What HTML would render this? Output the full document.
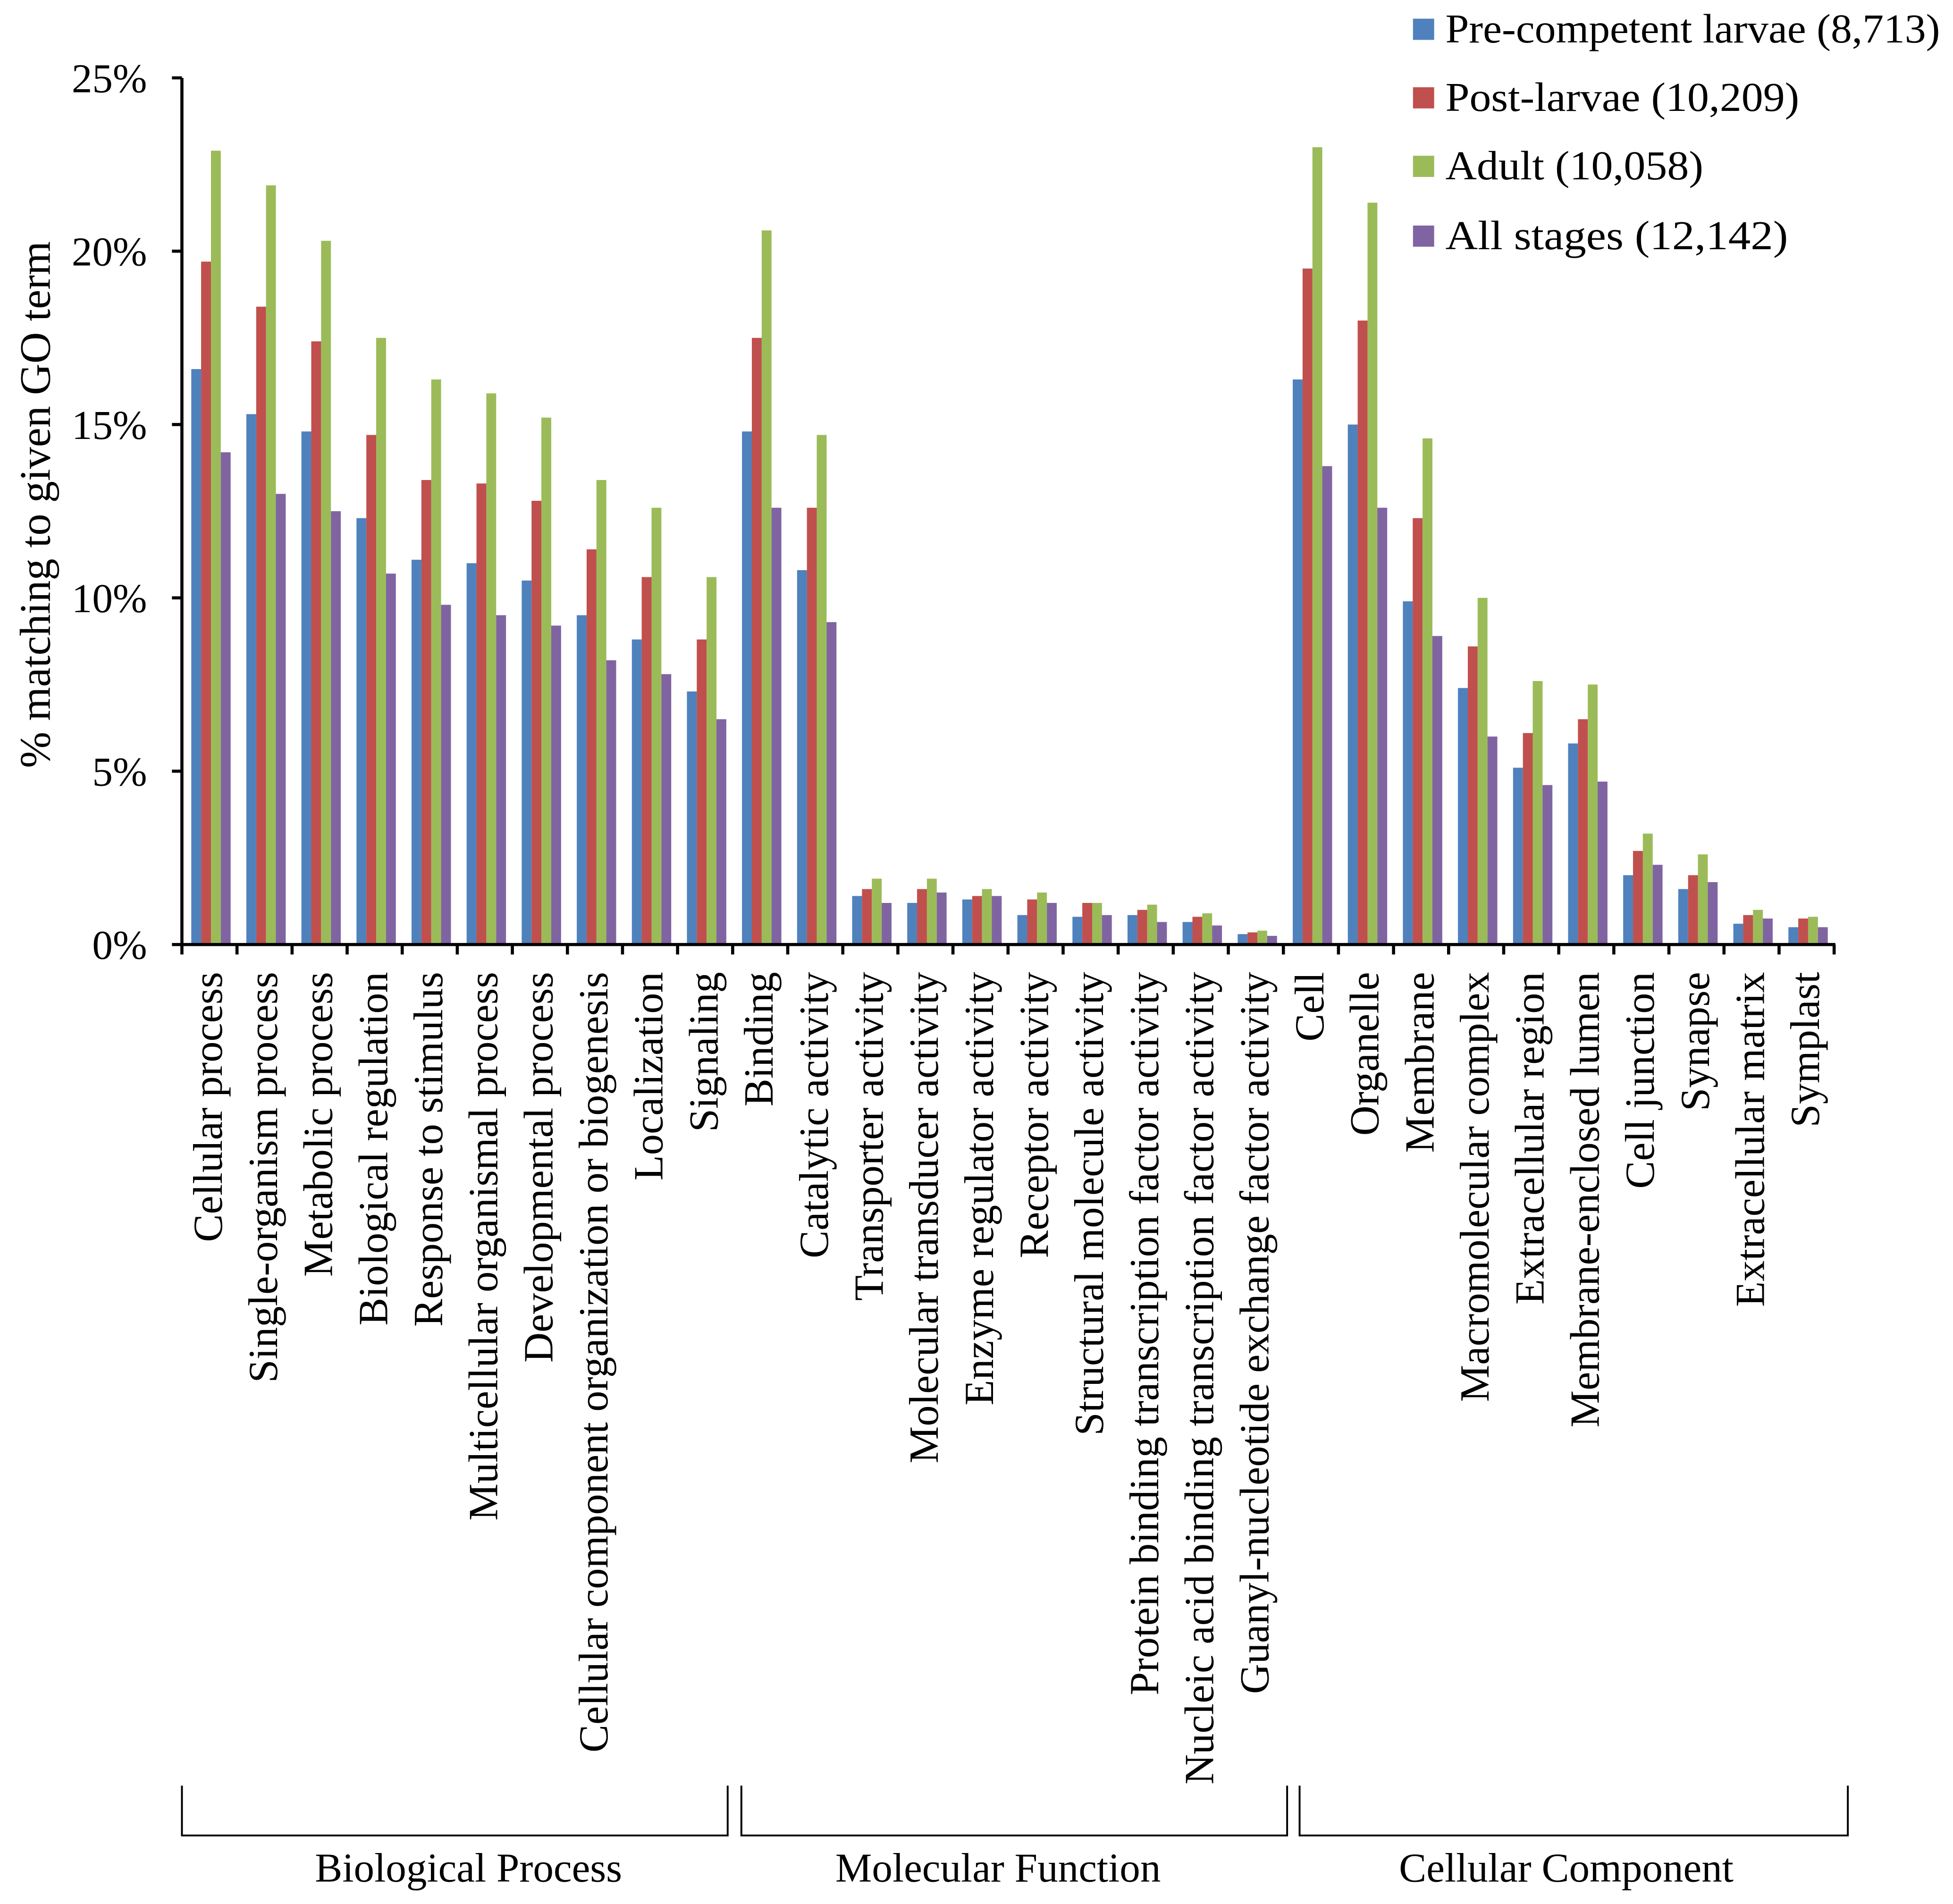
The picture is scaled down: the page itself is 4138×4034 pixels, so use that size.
<!DOCTYPE html>
<html><head><meta charset="utf-8"><style>
html,body{margin:0;padding:0;background:#fff;}
svg{display:block;}
text{font-family:"Liberation Serif","Times New Roman",serif;fill:#000;}
</style></head>
<body>
<svg id="chart" width="4138" height="4034" viewBox="0 0 1567.4 1528" preserveAspectRatio="none" xmlns="http://www.w3.org/2000/svg">
<g id="bars"></g>
<g id="axes"></g>
<g id="xlabels"></g>
<text transform="translate(40,405) rotate(-90)" text-anchor="middle" font-size="35">% matching to given GO term</text>
<g>
  <g><rect x="1134" y="15" width="17" height="17" fill="#4f81bd"/><text x="1160" y="34" font-size="33" textLength="397" lengthAdjust="spacingAndGlyphs">Pre-competent larvae (8,713)</text></g>
  <g><rect x="1134" y="70" width="17" height="17" fill="#c0504d"/><text x="1160" y="89" font-size="33" textLength="284" lengthAdjust="spacingAndGlyphs">Post-larvae  (10,209)</text></g>
  <g><rect x="1134" y="125" width="17" height="17" fill="#9bbb59"/><text x="1160" y="144" font-size="33" textLength="207" lengthAdjust="spacingAndGlyphs">Adult (10,058)</text></g>
  <g><rect x="1134" y="181" width="17" height="17" fill="#8064a2"/><text x="1160" y="200" font-size="33" textLength="275" lengthAdjust="spacingAndGlyphs">All stages (12,142)</text></g>
</g>
<g fill="none" stroke="#000" stroke-width="1.5">
  <path d="M146,1433 V1473 H584 V1433"/>
  <path d="M595,1433 V1473 H1033 V1433"/>
  <path d="M1043,1433 V1473 H1483 V1433"/>
</g>
<text x="376" y="1510" font-size="33" text-anchor="middle">Biological Process</text>
<text x="801" y="1510" font-size="33" text-anchor="middle">Molecular Function</text>
<text x="1257" y="1510" font-size="33" text-anchor="middle">Cellular Component</text>
</svg>
<script>
const categories = ["Cellular process","Single-organism process","Metabolic process","Biological regulation","Response to stimulus","Multicellular organismal process","Developmental process","Cellular component organization or biogenesis","Localization","Signaling","Binding","Catalytic activity","Transporter activity","Molecular transducer activity","Enzyme regulator activity","Receptor activity","Structural molecule activity","Protein binding transcription factor activity","Nucleic acid binding transcription factor activity","Guanyl-nucleotide exchange factor activity","Cell","Organelle","Membrane","Macromolecular complex","Extracellular region","Membrane-enclosed lumen","Cell junction","Synapse","Extracellular matrix","Symplast"];
const preCompetent = [16.6,15.3,14.8,12.3,11.1,11.0,10.5,9.5,8.8,7.3,14.8,10.8,1.4,1.2,1.3,0.85,0.8,0.85,0.65,0.3,16.3,15.0,9.9,7.4,5.1,5.8,2.0,1.6,0.6,0.5];
const postLarvae = [19.7,18.4,17.4,14.7,13.4,13.3,12.8,11.4,10.6,8.8,17.5,12.6,1.6,1.6,1.4,1.3,1.2,1.0,0.8,0.35,19.5,18.0,12.3,8.6,6.1,6.5,2.7,2.0,0.85,0.75];
const adult = [22.9,21.9,20.3,17.5,16.3,15.9,15.2,13.4,12.6,10.6,20.6,14.7,1.9,1.9,1.6,1.5,1.2,1.15,0.9,0.4,23.0,21.4,14.6,10.0,7.6,7.5,3.2,2.6,1.0,0.8];
const allStages = [14.2,13.0,12.5,10.7,9.8,9.5,9.2,8.2,7.8,6.5,12.6,9.3,1.2,1.5,1.4,1.2,0.85,0.65,0.55,0.25,13.8,12.6,8.9,6.0,4.6,4.7,2.3,1.8,0.75,0.5];
const yTicks = [0,5,10,15,20,25];
const yTickLabels = ["0%","5%","10%","15%","20%","25%"];

const NS="http://www.w3.org/2000/svg";
const X0=146, X1=1472, Y0=758, YTOP=62.5, YMAX=25;
const catW=(X1-X0)/categories.length;
function yScale(v){return Y0-(v/YMAX)*(Y0-YTOP);}
function xCat(i){return X0+i*catW;}
const seriesList=[
 {name:"pre-competent",vals:preCompetent,color:"#4f81bd"},
 {name:"post-larvae",vals:postLarvae,color:"#c0504d"},
 {name:"adult",vals:adult,color:"#9bbb59"},
 {name:"all-stages",vals:allStages,color:"#8064a2"}];
const barW=7.9, barOff=7.5;
const gb=document.getElementById('bars');
seriesList.forEach((s,si)=>{
  s.vals.forEach((v,i)=>{
    const r=document.createElementNS(NS,'rect');
    const x=xCat(i)+barOff+si*barW;
    r.setAttribute('x',x);r.setAttribute('width',barW);
    r.setAttribute('y',yScale(v));r.setAttribute('height',Y0-yScale(v));
    r.setAttribute('fill',s.color);
    
    
    gb.appendChild(r);
  });
});
const ga=document.getElementById('axes');
function line(x1,y1,x2,y2,w){const l=document.createElementNS(NS,'line');l.setAttribute('x1',x1);l.setAttribute('y1',y1);l.setAttribute('x2',x2);l.setAttribute('y2',y2);l.setAttribute('stroke','#000');l.setAttribute('stroke-width',w);ga.appendChild(l);return l;}
const ya=line(X0,YTOP,X0,Y0+8,2.5);


const xa=line(X0-1,Y0,X1+1,Y0,2.5);


yTicks.forEach((t,i)=>{
  const tk=line(X0-8,yScale(t),X0,yScale(t),2.5);
  
  
  const tx=document.createElementNS(NS,'text');
  tx.setAttribute('x',118);tx.setAttribute('y',yScale(t)+11.5);
  tx.setAttribute('text-anchor','end');tx.setAttribute('font-size','33');
  tx.textContent=yTickLabels[i];
  
  
  ga.appendChild(tx);
});
for(let i=1;i<=categories.length;i++){
  const tk=line(xCat(i),Y0,xCat(i),Y0+8,2.5);
  
  
}
const gx=document.getElementById('xlabels');
categories.forEach((c,i)=>{
  const cx=xCat(i)+catW/2;
  const tx=document.createElementNS(NS,'text');
  tx.setAttribute('transform','translate('+(cx+10)+',780) rotate(-90)');
  tx.setAttribute('text-anchor','end');tx.setAttribute('font-size','33.5');
  tx.textContent=c;
  
  
  gx.appendChild(tx);
});
</script>
</body></html>
